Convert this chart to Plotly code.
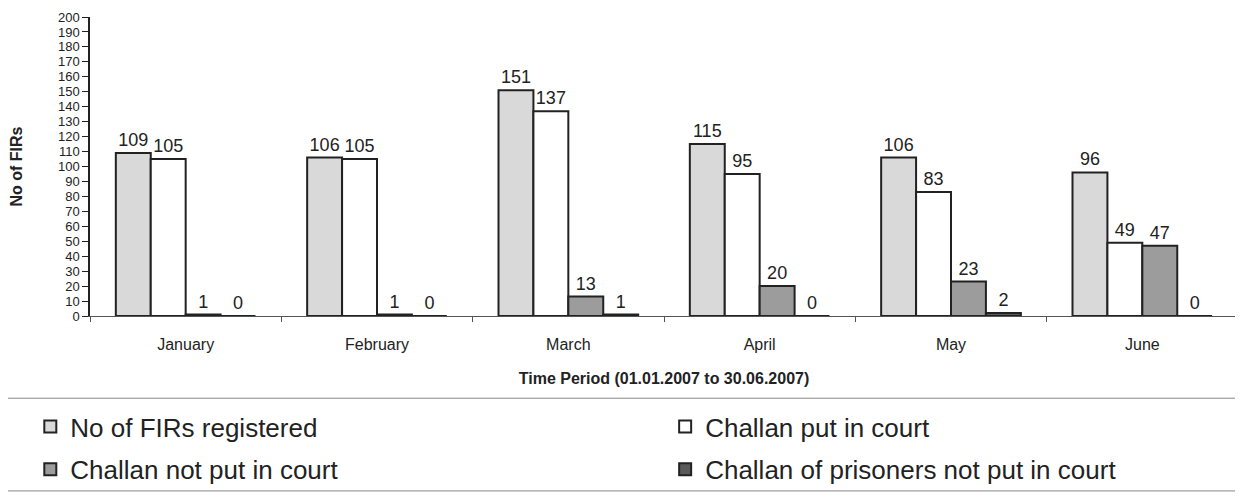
import plotly.graph_objects as go

months = ["January", "February", "March", "April", "May", "June"]
firs_registered = [109, 106, 151, 115, 106, 96]
challan_put = [105, 105, 137, 95, 83, 49]
challan_not_put = [1, 1, 13, 20, 23, 47]
prisoners_not_put = [0, 0, 1, 0, 2, 0]
y_ticks = list(range(0, 201, 10))

# name, values, fill colour, which legend column
series = [
    ("No of FIRs registered", firs_registered, "#d9d9d9", "legend"),
    ("Challan put in court", challan_put, "#ffffff", "legend2"),
    ("Challan not put in court", challan_not_put, "#9c9c9c", "legend"),
    ("Challan of prisoners not put in court", prisoners_not_put, "#5a5a5a", "legend2"),
]

# the html page adds an 8px body margin, so the figure is 16px smaller
W, H = 1235, 494

fig = go.Figure()
for name, vals, col, leg in series:
    fig.add_trace(go.Bar(
        x=months, y=vals, name=name, legend=leg, legendgroup=name,
        marker=dict(color=col, line=dict(color="#222222", width=2)),
        text=vals, textposition="outside", cliponaxis=False,
        textfont=dict(size=18, color="#222222"),
    ))

# legends placed in container pixels so they do not push the plot margins
legend_style = dict(font=dict(size=26), itemwidth=30, tracegroupgap=6,
                    yref="container", y=1 - 395 / H, yanchor="top",
                    xanchor="left", bgcolor="rgba(0,0,0,0)")

fig.update_layout(
    width=W, height=H,
    margin=dict(l=82, r=5, t=9, b=186, autoexpand=False),
    paper_bgcolor="white", plot_bgcolor="white",
    font=dict(family="Liberation Sans, Arial, sans-serif", color="#222222"),
    barmode="group", bargap=0.27, bargroupgap=0,
    showlegend=True,
    legend=dict(x=-0.052, **legend_style),
    legend2=dict(x=0.501, **legend_style),
    xaxis=dict(
        automargin=False,
        showline=True, linecolor="#555555", linewidth=1,
        ticks="outside", tickson="boundaries", ticklen=5, tickcolor="#555555",
        tickfont=dict(size=16), ticklabelstandoff=14,
        title=dict(text="<b>Time Period (01.01.2007 to 30.06.2007)</b>",
                   font=dict(size=16), standoff=20),
    ),
    yaxis=dict(
        automargin=False,
        range=[0, 200], tickvals=y_ticks, showgrid=False,
        showline=True, linecolor="#222222", linewidth=1.5,
        ticks="outside", ticklen=6, tickcolor="#222222",
        tickfont=dict(size=13),
        title=dict(text="<b>No of FIRs</b>", font=dict(size=16), standoff=38),
    ),
    shapes=[
        dict(type="line", xref="paper", yref="paper", x0=-0.08, x1=1.0,
             y0=-0.275, y1=-0.275, line=dict(color="#888888", width=1)),
        dict(type="line", xref="paper", yref="paper", x0=-0.08, x1=1.0,
             y0=-0.585, y1=-0.585, line=dict(color="#888888", width=1)),
    ],
)

fig.write_html("out.html")
